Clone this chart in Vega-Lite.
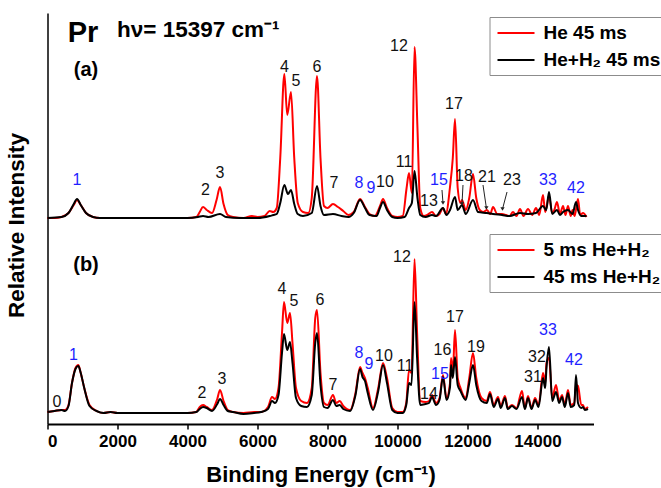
{
"$schema": "https://vega.github.io/schema/vega-lite/v6.json",
"width": 546, "height": 411,
"autosize": {"type": "none"},
"padding": {"left": 47.5, "top": 13, "right": 67.5, "bottom": 64},
"config": {
  "view": {"stroke": null},
  "font": "Liberation Sans",
  "axisX": {"domainColor": "black", "domainWidth": 2, "tickColor": "black", "tickWidth": 1.5, "tickSize": 5, "labelFont": "Liberation Sans", "labelFontSize": 17, "labelFontWeight": "bold", "labelColor": "black", "titleFont": "Liberation Sans", "titleFontSize": 22, "titleFontWeight": "bold", "titleColor": "black", "grid": false, "labelPadding": 4, "titlePadding": 15},
  "axisY": {"domainColor": "black", "domainWidth": 1.5, "ticks": false, "labels": false, "grid": false, "titleFont": "Liberation Sans", "titleFontSize": 22.5, "titleFontWeight": "bold", "titleColor": "black", "titlePadding": 19, "titleY": 212},
  "legend": {"labelFont": "Liberation Sans", "labelFontSize": 19, "labelFontWeight": "bold", "labelColor": "black", "symbolType": "M-0.8,0H2.9", "symbolSize": 400, "symbolStrokeWidth": 2, "strokeColor": "#8c8c8c", "fillColor": "white", "padding": 5, "rowPadding": 6, "labelOffset": 27}
},
"datasets": {
"a": [
{"s":"He 45 ms","e":0,"i":0},{"s":"He 45 ms","e":200,"i":0},{"s":"He 45 ms","e":400,"i":1},{"s":"He 45 ms","e":600,"i":5},{"s":"He 45 ms","e":750,"i":13},{"s":"He 45 ms","e":843,"i":18},{"s":"He 45 ms","e":950,"i":13},{"s":"He 45 ms","e":1100,"i":5},{"s":"He 45 ms","e":1300,"i":1},{"s":"He 45 ms","e":1500,"i":0},{"s":"He 45 ms","e":2000,"i":0},{"s":"He 45 ms","e":3000,"i":0},{"s":"He 45 ms","e":4000,"i":0},{"s":"He 45 ms","e":4250,"i":1},{"s":"He 45 ms","e":4350,"i":6},{"s":"He 45 ms","e":4443,"i":11},{"s":"He 45 ms","e":4550,"i":8},{"s":"He 45 ms","e":4700,"i":5},{"s":"He 45 ms","e":4830,"i":18},{"s":"He 45 ms","e":4929,"i":31},{"s":"He 45 ms","e":5030,"i":14},{"s":"He 45 ms","e":5150,"i":3},{"s":"He 45 ms","e":5300,"i":1},{"s":"He 45 ms","e":5600,"i":0},{"s":"He 45 ms","e":5840,"i":2},{"s":"He 45 ms","e":6000,"i":1},{"s":"He 45 ms","e":6200,"i":2},{"s":"He 45 ms","e":6350,"i":7},{"s":"He 45 ms","e":6450,"i":6},{"s":"He 45 ms","e":6550,"i":10},{"s":"He 45 ms","e":6650,"i":60},{"s":"He 45 ms","e":6767,"i":144},{"s":"He 45 ms","e":6850,"i":103},{"s":"He 45 ms","e":6957,"i":126},{"s":"He 45 ms","e":7050,"i":60},{"s":"He 45 ms","e":7150,"i":15},{"s":"He 45 ms","e":7300,"i":6},{"s":"He 45 ms","e":7450,"i":5},{"s":"He 45 ms","e":7550,"i":20},{"s":"He 45 ms","e":7700,"i":142},{"s":"He 45 ms","e":7800,"i":60},{"s":"He 45 ms","e":7900,"i":12},{"s":"He 45 ms","e":8000,"i":10},{"s":"He 45 ms","e":8157,"i":14},{"s":"He 45 ms","e":8300,"i":11},{"s":"He 45 ms","e":8450,"i":7},{"s":"He 45 ms","e":8600,"i":3},{"s":"He 45 ms","e":8750,"i":6},{"s":"He 45 ms","e":8929,"i":19},{"s":"He 45 ms","e":9071,"i":11},{"s":"He 45 ms","e":9200,"i":4},{"s":"He 45 ms","e":9350,"i":2},{"s":"He 45 ms","e":9500,"i":12},{"s":"He 45 ms","e":9586,"i":19},{"s":"He 45 ms","e":9700,"i":10},{"s":"He 45 ms","e":9850,"i":2},{"s":"He 45 ms","e":10000,"i":1},{"s":"He 45 ms","e":10150,"i":2},{"s":"He 45 ms","e":10260,"i":30},{"s":"He 45 ms","e":10329,"i":45},{"s":"He 45 ms","e":10410,"i":25},{"s":"He 45 ms","e":10486,"i":171},{"s":"He 45 ms","e":10570,"i":90},{"s":"He 45 ms","e":10650,"i":10},{"s":"He 45 ms","e":10750,"i":2},{"s":"He 45 ms","e":10850,"i":3},{"s":"He 45 ms","e":10986,"i":6},{"s":"He 45 ms","e":11100,"i":2},{"s":"He 45 ms","e":11200,"i":4},{"s":"He 45 ms","e":11300,"i":10},{"s":"He 45 ms","e":11380,"i":4},{"s":"He 45 ms","e":11500,"i":31},{"s":"He 45 ms","e":11580,"i":60},{"s":"He 45 ms","e":11643,"i":99},{"s":"He 45 ms","e":11720,"i":30},{"s":"He 45 ms","e":11800,"i":15},{"s":"He 45 ms","e":11843,"i":18},{"s":"He 45 ms","e":11950,"i":8},{"s":"He 45 ms","e":12050,"i":20},{"s":"He 45 ms","e":12157,"i":44},{"s":"He 45 ms","e":12250,"i":20},{"s":"He 45 ms","e":12350,"i":8},{"s":"He 45 ms","e":12450,"i":6},{"s":"He 45 ms","e":12557,"i":8},{"s":"He 45 ms","e":12650,"i":4},{"s":"He 45 ms","e":12729,"i":11},{"s":"He 45 ms","e":12850,"i":4},{"s":"He 45 ms","e":12986,"i":4},{"s":"He 45 ms","e":13100,"i":3},{"s":"He 45 ms","e":13200,"i":2},{"s":"He 45 ms","e":13300,"i":6},{"s":"He 45 ms","e":13400,"i":2},{"s":"He 45 ms","e":13500,"i":9},{"s":"He 45 ms","e":13600,"i":2},{"s":"He 45 ms","e":13729,"i":9},{"s":"He 45 ms","e":13850,"i":3},{"s":"He 45 ms","e":13957,"i":10},{"s":"He 45 ms","e":14050,"i":3},{"s":"He 45 ms","e":14157,"i":23},{"s":"He 45 ms","e":14220,"i":6},{"s":"He 45 ms","e":14329,"i":22},{"s":"He 45 ms","e":14420,"i":5},{"s":"He 45 ms","e":14480,"i":8},{"s":"He 45 ms","e":14557,"i":16},{"s":"He 45 ms","e":14640,"i":4},{"s":"He 45 ms","e":14729,"i":12},{"s":"He 45 ms","e":14800,"i":3},{"s":"He 45 ms","e":14871,"i":12},{"s":"He 45 ms","e":14950,"i":2},{"s":"He 45 ms","e":15000,"i":8},{"s":"He 45 ms","e":15060,"i":2},{"s":"He 45 ms","e":15157,"i":19},{"s":"He 45 ms","e":15220,"i":3},{"s":"He 45 ms","e":15300,"i":5},{"s":"He 45 ms","e":15400,"i":1},
{"s":"He+H₂ 45 ms","e":0,"i":0},{"s":"He+H₂ 45 ms","e":400,"i":1},{"s":"He+H₂ 45 ms","e":600,"i":5},{"s":"He+H₂ 45 ms","e":750,"i":14},{"s":"He+H₂ 45 ms","e":843,"i":19},{"s":"He+H₂ 45 ms","e":950,"i":13},{"s":"He+H₂ 45 ms","e":1100,"i":5},{"s":"He+H₂ 45 ms","e":1300,"i":1},{"s":"He+H₂ 45 ms","e":1500,"i":0},{"s":"He+H₂ 45 ms","e":4000,"i":0},{"s":"He+H₂ 45 ms","e":4300,"i":1},{"s":"He+H₂ 45 ms","e":4443,"i":2},{"s":"He+H₂ 45 ms","e":4600,"i":1},{"s":"He+H₂ 45 ms","e":4929,"i":4},{"s":"He+H₂ 45 ms","e":5100,"i":1},{"s":"He+H₂ 45 ms","e":5500,"i":0},{"s":"He+H₂ 45 ms","e":6000,"i":0},{"s":"He+H₂ 45 ms","e":6350,"i":2},{"s":"He+H₂ 45 ms","e":6450,"i":3},{"s":"He+H₂ 45 ms","e":6550,"i":4},{"s":"He+H₂ 45 ms","e":6650,"i":15},{"s":"He+H₂ 45 ms","e":6767,"i":33},{"s":"He+H₂ 45 ms","e":6870,"i":24},{"s":"He+H₂ 45 ms","e":6957,"i":28},{"s":"He+H₂ 45 ms","e":7050,"i":14},{"s":"He+H₂ 45 ms","e":7150,"i":4},{"s":"He+H₂ 45 ms","e":7300,"i":2},{"s":"He+H₂ 45 ms","e":7550,"i":5},{"s":"He+H₂ 45 ms","e":7700,"i":32},{"s":"He+H₂ 45 ms","e":7800,"i":12},{"s":"He+H₂ 45 ms","e":7900,"i":3},{"s":"He+H₂ 45 ms","e":8157,"i":4},{"s":"He+H₂ 45 ms","e":8400,"i":2},{"s":"He+H₂ 45 ms","e":8600,"i":1},{"s":"He+H₂ 45 ms","e":8750,"i":5},{"s":"He+H₂ 45 ms","e":8929,"i":18},{"s":"He+H₂ 45 ms","e":9071,"i":10},{"s":"He+H₂ 45 ms","e":9200,"i":3},{"s":"He+H₂ 45 ms","e":9400,"i":2},{"s":"He+H₂ 45 ms","e":9500,"i":10},{"s":"He+H₂ 45 ms","e":9586,"i":16},{"s":"He+H₂ 45 ms","e":9700,"i":8},{"s":"He+H₂ 45 ms","e":9850,"i":1},{"s":"He+H₂ 45 ms","e":10000,"i":0},{"s":"He+H₂ 45 ms","e":10200,"i":1},{"s":"He+H₂ 45 ms","e":10329,"i":10},{"s":"He+H₂ 45 ms","e":10410,"i":15},{"s":"He+H₂ 45 ms","e":10486,"i":47},{"s":"He+H₂ 45 ms","e":10570,"i":20},{"s":"He+H₂ 45 ms","e":10650,"i":3},{"s":"He+H₂ 45 ms","e":10800,"i":1},{"s":"He+H₂ 45 ms","e":10986,"i":3},{"s":"He+H₂ 45 ms","e":11100,"i":2},{"s":"He+H₂ 45 ms","e":11300,"i":10},{"s":"He+H₂ 45 ms","e":11400,"i":3},{"s":"He+H₂ 45 ms","e":11500,"i":8},{"s":"He+H₂ 45 ms","e":11643,"i":21},{"s":"He+H₂ 45 ms","e":11720,"i":8},{"s":"He+H₂ 45 ms","e":11843,"i":13},{"s":"He+H₂ 45 ms","e":11950,"i":4},{"s":"He+H₂ 45 ms","e":12157,"i":18},{"s":"He+H₂ 45 ms","e":12300,"i":6},{"s":"He+H₂ 45 ms","e":12557,"i":5},{"s":"He+H₂ 45 ms","e":12729,"i":4},{"s":"He+H₂ 45 ms","e":12986,"i":3},{"s":"He+H₂ 45 ms","e":13200,"i":2},{"s":"He+H₂ 45 ms","e":13500,"i":5},{"s":"He+H₂ 45 ms","e":13729,"i":4},{"s":"He+H₂ 45 ms","e":13957,"i":5},{"s":"He+H₂ 45 ms","e":14157,"i":12},{"s":"He+H₂ 45 ms","e":14250,"i":8},{"s":"He+H₂ 45 ms","e":14329,"i":26},{"s":"He+H₂ 45 ms","e":14420,"i":4},{"s":"He+H₂ 45 ms","e":14557,"i":8},{"s":"He+H₂ 45 ms","e":14640,"i":3},{"s":"He+H₂ 45 ms","e":14729,"i":6},{"s":"He+H₂ 45 ms","e":14871,"i":8},{"s":"He+H₂ 45 ms","e":15000,"i":4},{"s":"He+H₂ 45 ms","e":15100,"i":16},{"s":"He+H₂ 45 ms","e":15157,"i":8},{"s":"He+H₂ 45 ms","e":15250,"i":2},{"s":"He+H₂ 45 ms","e":15400,"i":2}
],
"b": [
{"s":"5 ms He+H₂","e":0,"i":1},{"s":"5 ms He+H₂","e":200,"i":2},{"s":"5 ms He+H₂","e":400,"i":3},{"s":"5 ms He+H₂","e":500,"i":3},{"s":"5 ms He+H₂","e":600,"i":8},{"s":"5 ms He+H₂","e":700,"i":30},{"s":"5 ms He+H₂","e":800,"i":45},{"s":"5 ms He+H₂","e":880,"i":48},{"s":"5 ms He+H₂","e":950,"i":40},{"s":"5 ms He+H₂","e":1050,"i":25},{"s":"5 ms He+H₂","e":1200,"i":8},{"s":"5 ms He+H₂","e":1400,"i":2},{"s":"5 ms He+H₂","e":1600,"i":0},{"s":"5 ms He+H₂","e":1800,"i":1},{"s":"5 ms He+H₂","e":2000,"i":0},{"s":"5 ms He+H₂","e":3000,"i":0},{"s":"5 ms He+H₂","e":4000,"i":0},{"s":"5 ms He+H₂","e":4250,"i":1},{"s":"5 ms He+H₂","e":4350,"i":6},{"s":"5 ms He+H₂","e":4443,"i":8},{"s":"5 ms He+H₂","e":4550,"i":6},{"s":"5 ms He+H₂","e":4700,"i":3},{"s":"5 ms He+H₂","e":4850,"i":14},{"s":"5 ms He+H₂","e":4929,"i":23},{"s":"5 ms He+H₂","e":5030,"i":12},{"s":"5 ms He+H₂","e":5150,"i":3},{"s":"5 ms He+H₂","e":5300,"i":1},{"s":"5 ms He+H₂","e":5600,"i":0},{"s":"5 ms He+H₂","e":5900,"i":1},{"s":"5 ms He+H₂","e":6100,"i":1},{"s":"5 ms He+H₂","e":6300,"i":6},{"s":"5 ms He+H₂","e":6414,"i":16},{"s":"5 ms He+H₂","e":6500,"i":14},{"s":"5 ms He+H₂","e":6600,"i":25},{"s":"5 ms He+H₂","e":6700,"i":80},{"s":"5 ms He+H₂","e":6757,"i":111},{"s":"5 ms He+H₂","e":6850,"i":90},{"s":"5 ms He+H₂","e":6929,"i":100},{"s":"5 ms He+H₂","e":7000,"i":70},{"s":"5 ms He+H₂","e":7100,"i":25},{"s":"5 ms He+H₂","e":7250,"i":12},{"s":"5 ms He+H₂","e":7414,"i":10},{"s":"5 ms He+H₂","e":7550,"i":25},{"s":"5 ms He+H₂","e":7650,"i":95},{"s":"5 ms He+H₂","e":7700,"i":103},{"s":"5 ms He+H₂","e":7800,"i":40},{"s":"5 ms He+H₂","e":7900,"i":10},{"s":"5 ms He+H₂","e":8000,"i":8},{"s":"5 ms He+H₂","e":8157,"i":18},{"s":"5 ms He+H₂","e":8250,"i":10},{"s":"5 ms He+H₂","e":8350,"i":12},{"s":"5 ms He+H₂","e":8450,"i":7},{"s":"5 ms He+H₂","e":8643,"i":3},{"s":"5 ms He+H₂","e":8800,"i":20},{"s":"5 ms He+H₂","e":8929,"i":46},{"s":"5 ms He+H₂","e":9000,"i":40},{"s":"5 ms He+H₂","e":9071,"i":35},{"s":"5 ms He+H₂","e":9150,"i":25},{"s":"5 ms He+H₂","e":9300,"i":5},{"s":"5 ms He+H₂","e":9450,"i":25},{"s":"5 ms He+H₂","e":9586,"i":50},{"s":"5 ms He+H₂","e":9700,"i":35},{"s":"5 ms He+H₂","e":9850,"i":5},{"s":"5 ms He+H₂","e":10000,"i":1},{"s":"5 ms He+H₂","e":10150,"i":1},{"s":"5 ms He+H₂","e":10250,"i":10},{"s":"5 ms He+H₂","e":10329,"i":43},{"s":"5 ms He+H₂","e":10400,"i":40},{"s":"5 ms He+H₂","e":10486,"i":154},{"s":"5 ms He+H₂","e":10560,"i":80},{"s":"5 ms He+H₂","e":10650,"i":12},{"s":"5 ms He+H₂","e":10800,"i":11},{"s":"5 ms He+H₂","e":10900,"i":12},{"s":"5 ms He+H₂","e":10986,"i":18},{"s":"5 ms He+H₂","e":11100,"i":10},{"s":"5 ms He+H₂","e":11200,"i":15},{"s":"5 ms He+H₂","e":11300,"i":38},{"s":"5 ms He+H₂","e":11400,"i":15},{"s":"5 ms He+H₂","e":11500,"i":30},{"s":"5 ms He+H₂","e":11529,"i":55},{"s":"5 ms He+H₂","e":11580,"i":40},{"s":"5 ms He+H₂","e":11643,"i":83},{"s":"5 ms He+H₂","e":11720,"i":35},{"s":"5 ms He+H₂","e":11800,"i":25},{"s":"5 ms He+H₂","e":11950,"i":15},{"s":"5 ms He+H₂","e":12050,"i":35},{"s":"5 ms He+H₂","e":12157,"i":60},{"s":"5 ms He+H₂","e":12250,"i":35},{"s":"5 ms He+H₂","e":12400,"i":15},{"s":"5 ms He+H₂","e":12550,"i":12},{"s":"5 ms He+H₂","e":12643,"i":21},{"s":"5 ms He+H₂","e":12750,"i":8},{"s":"5 ms He+H₂","e":12871,"i":16},{"s":"5 ms He+H₂","e":12950,"i":7},{"s":"5 ms He+H₂","e":13071,"i":17},{"s":"5 ms He+H₂","e":13150,"i":5},{"s":"5 ms He+H₂","e":13271,"i":8},{"s":"5 ms He+H₂","e":13400,"i":5},{"s":"5 ms He+H₂","e":13557,"i":22},{"s":"5 ms He+H₂","e":13640,"i":5},{"s":"5 ms He+H₂","e":13729,"i":17},{"s":"5 ms He+H₂","e":13830,"i":5},{"s":"5 ms He+H₂","e":13929,"i":15},{"s":"5 ms He+H₂","e":14030,"i":8},{"s":"5 ms He+H₂","e":14157,"i":40},{"s":"5 ms He+H₂","e":14220,"i":30},{"s":"5 ms He+H₂","e":14257,"i":50},{"s":"5 ms He+H₂","e":14329,"i":55},{"s":"5 ms He+H₂","e":14420,"i":15},{"s":"5 ms He+H₂","e":14529,"i":28},{"s":"5 ms He+H₂","e":14620,"i":12},{"s":"5 ms He+H₂","e":14700,"i":18},{"s":"5 ms He+H₂","e":14780,"i":8},{"s":"5 ms He+H₂","e":14871,"i":23},{"s":"5 ms He+H₂","e":14950,"i":8},{"s":"5 ms He+H₂","e":15050,"i":10},{"s":"5 ms He+H₂","e":15100,"i":28},{"s":"5 ms He+H₂","e":15157,"i":27},{"s":"5 ms He+H₂","e":15250,"i":8},{"s":"5 ms He+H₂","e":15300,"i":8},{"s":"5 ms He+H₂","e":15350,"i":4},{"s":"5 ms He+H₂","e":15443,"i":6},
{"s":"45 ms He+H₂","e":0,"i":1},{"s":"45 ms He+H₂","e":200,"i":2},{"s":"45 ms He+H₂","e":400,"i":3},{"s":"45 ms He+H₂","e":500,"i":2},{"s":"45 ms He+H₂","e":600,"i":7},{"s":"45 ms He+H₂","e":700,"i":30},{"s":"45 ms He+H₂","e":800,"i":44},{"s":"45 ms He+H₂","e":880,"i":47},{"s":"45 ms He+H₂","e":950,"i":40},{"s":"45 ms He+H₂","e":1050,"i":25},{"s":"45 ms He+H₂","e":1200,"i":7},{"s":"45 ms He+H₂","e":1400,"i":2},{"s":"45 ms He+H₂","e":1600,"i":0},{"s":"45 ms He+H₂","e":1800,"i":1},{"s":"45 ms He+H₂","e":2000,"i":0},{"s":"45 ms He+H₂","e":3000,"i":0},{"s":"45 ms He+H₂","e":4000,"i":0},{"s":"45 ms He+H₂","e":4250,"i":1},{"s":"45 ms He+H₂","e":4350,"i":4},{"s":"45 ms He+H₂","e":4443,"i":6},{"s":"45 ms He+H₂","e":4550,"i":5},{"s":"45 ms He+H₂","e":4700,"i":2},{"s":"45 ms He+H₂","e":4850,"i":9},{"s":"45 ms He+H₂","e":4929,"i":14},{"s":"45 ms He+H₂","e":5030,"i":8},{"s":"45 ms He+H₂","e":5150,"i":2},{"s":"45 ms He+H₂","e":5300,"i":1},{"s":"45 ms He+H₂","e":5600,"i":-1},{"s":"45 ms He+H₂","e":5900,"i":0},{"s":"45 ms He+H₂","e":6100,"i":1},{"s":"45 ms He+H₂","e":6300,"i":4},{"s":"45 ms He+H₂","e":6414,"i":12},{"s":"45 ms He+H₂","e":6500,"i":10},{"s":"45 ms He+H₂","e":6600,"i":18},{"s":"45 ms He+H₂","e":6700,"i":60},{"s":"45 ms He+H₂","e":6757,"i":79},{"s":"45 ms He+H₂","e":6850,"i":63},{"s":"45 ms He+H₂","e":6929,"i":71},{"s":"45 ms He+H₂","e":7000,"i":50},{"s":"45 ms He+H₂","e":7100,"i":15},{"s":"45 ms He+H₂","e":7250,"i":7},{"s":"45 ms He+H₂","e":7414,"i":6},{"s":"45 ms He+H₂","e":7550,"i":18},{"s":"45 ms He+H₂","e":7650,"i":70},{"s":"45 ms He+H₂","e":7700,"i":80},{"s":"45 ms He+H₂","e":7800,"i":28},{"s":"45 ms He+H₂","e":7900,"i":6},{"s":"45 ms He+H₂","e":8000,"i":5},{"s":"45 ms He+H₂","e":8157,"i":13},{"s":"45 ms He+H₂","e":8250,"i":7},{"s":"45 ms He+H₂","e":8350,"i":8},{"s":"45 ms He+H₂","e":8450,"i":4},{"s":"45 ms He+H₂","e":8643,"i":2},{"s":"45 ms He+H₂","e":8800,"i":18},{"s":"45 ms He+H₂","e":8929,"i":44},{"s":"45 ms He+H₂","e":9000,"i":36},{"s":"45 ms He+H₂","e":9071,"i":32},{"s":"45 ms He+H₂","e":9150,"i":20},{"s":"45 ms He+H₂","e":9300,"i":3},{"s":"45 ms He+H₂","e":9450,"i":22},{"s":"45 ms He+H₂","e":9586,"i":48},{"s":"45 ms He+H₂","e":9700,"i":30},{"s":"45 ms He+H₂","e":9850,"i":3},{"s":"45 ms He+H₂","e":10000,"i":0},{"s":"45 ms He+H₂","e":10150,"i":0},{"s":"45 ms He+H₂","e":10250,"i":8},{"s":"45 ms He+H₂","e":10329,"i":30},{"s":"45 ms He+H₂","e":10400,"i":28},{"s":"45 ms He+H₂","e":10486,"i":111},{"s":"45 ms He+H₂","e":10560,"i":55},{"s":"45 ms He+H₂","e":10650,"i":8},{"s":"45 ms He+H₂","e":10800,"i":9},{"s":"45 ms He+H₂","e":10900,"i":10},{"s":"45 ms He+H₂","e":10986,"i":16},{"s":"45 ms He+H₂","e":11100,"i":8},{"s":"45 ms He+H₂","e":11200,"i":13},{"s":"45 ms He+H₂","e":11300,"i":36},{"s":"45 ms He+H₂","e":11400,"i":13},{"s":"45 ms He+H₂","e":11500,"i":26},{"s":"45 ms He+H₂","e":11529,"i":48},{"s":"45 ms He+H₂","e":11580,"i":35},{"s":"45 ms He+H₂","e":11643,"i":56},{"s":"45 ms He+H₂","e":11720,"i":28},{"s":"45 ms He+H₂","e":11800,"i":22},{"s":"45 ms He+H₂","e":11950,"i":13},{"s":"45 ms He+H₂","e":12050,"i":30},{"s":"45 ms He+H₂","e":12157,"i":48},{"s":"45 ms He+H₂","e":12250,"i":28},{"s":"45 ms He+H₂","e":12400,"i":12},{"s":"45 ms He+H₂","e":12550,"i":10},{"s":"45 ms He+H₂","e":12643,"i":19},{"s":"45 ms He+H₂","e":12750,"i":6},{"s":"45 ms He+H₂","e":12871,"i":14},{"s":"45 ms He+H₂","e":12950,"i":5},{"s":"45 ms He+H₂","e":13071,"i":15},{"s":"45 ms He+H₂","e":13150,"i":4},{"s":"45 ms He+H₂","e":13271,"i":7},{"s":"45 ms He+H₂","e":13400,"i":4},{"s":"45 ms He+H₂","e":13557,"i":16},{"s":"45 ms He+H₂","e":13640,"i":4},{"s":"45 ms He+H₂","e":13729,"i":15},{"s":"45 ms He+H₂","e":13830,"i":4},{"s":"45 ms He+H₂","e":13929,"i":13},{"s":"45 ms He+H₂","e":14030,"i":6},{"s":"45 ms He+H₂","e":14157,"i":35},{"s":"45 ms He+H₂","e":14220,"i":25},{"s":"45 ms He+H₂","e":14257,"i":45},{"s":"45 ms He+H₂","e":14329,"i":66},{"s":"45 ms He+H₂","e":14420,"i":12},{"s":"45 ms He+H₂","e":14529,"i":21},{"s":"45 ms He+H₂","e":14620,"i":10},{"s":"45 ms He+H₂","e":14700,"i":16},{"s":"45 ms He+H₂","e":14780,"i":6},{"s":"45 ms He+H₂","e":14871,"i":20},{"s":"45 ms He+H₂","e":14950,"i":6},{"s":"45 ms He+H₂","e":15050,"i":8},{"s":"45 ms He+H₂","e":15100,"i":38},{"s":"45 ms He+H₂","e":15157,"i":10},{"s":"45 ms He+H₂","e":15250,"i":5},{"s":"45 ms He+H₂","e":15300,"i":6},{"s":"45 ms He+H₂","e":15350,"i":3},{"s":"45 ms He+H₂","e":15443,"i":4}
],
"la": [
{"t":"1","e":843,"i":38,"hl":true},{"t":"2","e":4514,"i":28,"hl":false},{"t":"3","e":4929,"i":45,"hl":false},{"t":"4","e":6771,"i":151,"hl":false},{"t":"5","e":7100,"i":137,"hl":false},{"t":"6","e":7700,"i":151,"hl":false},{"t":"7","e":8186,"i":35,"hl":false},{"t":"8","e":8900,"i":35,"hl":true},{"t":"9","e":9243,"i":30,"hl":true},{"t":"10","e":9643,"i":36,"hl":false},{"t":"11","e":10186,"i":56,"hl":false},{"t":"12","e":10043,"i":172,"hl":false},{"t":"13","e":10900,"i":17,"hl":false},{"t":"15","e":11186,"i":38,"hl":true},{"t":"17","e":11614,"i":114,"hl":false},{"t":"18","e":11900,"i":42,"hl":false},{"t":"21","e":12557,"i":41,"hl":false},{"t":"23","e":13271,"i":38,"hl":false},{"t":"33","e":14300,"i":38,"hl":true},{"t":"42","e":15100,"i":30,"hl":true}
],
"lb": [
{"t":"0","e":271,"i":11,"hl":false},{"t":"1","e":743,"i":58,"hl":true},{"t":"2","e":4414,"i":20,"hl":false},{"t":"3","e":4986,"i":34,"hl":false},{"t":"4","e":6700,"i":124,"hl":false},{"t":"5","e":7043,"i":112,"hl":false},{"t":"6","e":7786,"i":113,"hl":false},{"t":"7","e":8157,"i":28,"hl":false},{"t":"8","e":8900,"i":60,"hl":true},{"t":"9","e":9186,"i":49,"hl":true},{"t":"10","e":9614,"i":57,"hl":false},{"t":"11","e":10214,"i":47,"hl":false},{"t":"12","e":10129,"i":156,"hl":false},{"t":"14","e":10900,"i":19,"hl":false},{"t":"15","e":11214,"i":39,"hl":true},{"t":"16","e":11286,"i":63,"hl":false},{"t":"17","e":11643,"i":96,"hl":false},{"t":"19","e":12243,"i":66,"hl":false},{"t":"31","e":13871,"i":36,"hl":false},{"t":"32","e":13986,"i":56,"hl":false},{"t":"33","e":14300,"i":83,"hl":true},{"t":"42","e":15043,"i":53,"hl":true}
],
"arr": [
{"e1":11271,"i1":28,"e2":11300,"i2":15},{"e1":11871,"i1":33,"e2":11843,"i2":14},{"e1":12443,"i1":33,"e2":12540,"i2":10},{"e1":13129,"i1":26,"e2":13000,"i2":9}
]
},
"layer": [
{
 "layer": [
  {"data": {"name": "a"},
   "mark": {"type": "line", "strokeWidth": 2, "interpolate": "monotone"},
   "encoding": {
    "x": {"field": "e", "type": "quantitative", "scale": {"domain": [0, 15600], "nice": false, "zero": false}, "title": "Binding Energy (cm⁻¹)", "axis": {"values": [0,1000,2000,3000,4000,5000,6000,7000,8000,9000,10000,11000,12000,13000,14000,15000], "format": "d", "labelExpr": "datum.value % 2000 === 0 ? datum.label : ''"}},
    "y": {"field": "i", "type": "quantitative", "scale": {"domain": [-206, 205], "nice": false, "zero": false}, "title": "Relative Intensity"},
    "color": {"field": "s", "type": "nominal", "scale": {"domain": ["He 45 ms", "He+H₂ 45 ms"], "range": ["#ff0000", "#000000"]}, "sort": null, "legend": {"title": null, "orient": "none", "legendX": 442, "legendY": 4}}
   }},
  {"data": {"name": "la"},
   "mark": {"type": "text", "font": "Liberation Sans", "fontSize": 16, "baseline": "middle", "align": "center"},
   "encoding": {
    "x": {"field": "e", "type": "quantitative"},
    "y": {"field": "i", "type": "quantitative"},
    "text": {"field": "t"},
    "color": {"condition": {"test": "datum.hl", "value": "#1f1fff"}, "value": "#111111"}
   }},
  {"data": {"name": "arr"},
   "mark": {"type": "rule", "color": "#222222", "strokeWidth": 1},
   "encoding": {
    "x": {"field": "e1", "type": "quantitative"}, "y": {"field": "i1", "type": "quantitative"},
    "x2": {"field": "e2"}, "y2": {"field": "i2"}
   }},
  {"data": {"name": "arr"},
   "mark": {"type": "point", "shape": "triangle-down", "filled": true, "size": 18, "color": "#222222", "opacity": 1},
   "encoding": {
    "x": {"field": "e2", "type": "quantitative"}, "y": {"field": "i2", "type": "quantitative"}
   }},
  {"data": {"values": [{"t": "Pr", "e": 1014, "i": 176}]},
   "mark": {"type": "text", "font": "Liberation Sans", "fontSize": 29, "fontWeight": "bold", "align": "center", "baseline": "alphabetic", "color": "black"},
   "encoding": {"x": {"field": "e", "type": "quantitative"}, "y": {"field": "i", "type": "quantitative"}, "text": {"field": "t"}}},
  {"data": {"values": [{"t": "hν= 15397 cm⁻¹", "e": 1986, "i": 181}]},
   "mark": {"type": "text", "font": "Liberation Sans", "fontSize": 22.5, "fontWeight": "bold", "align": "left", "baseline": "alphabetic", "color": "black"},
   "encoding": {"x": {"field": "e", "type": "quantitative"}, "y": {"field": "i", "type": "quantitative"}, "text": {"field": "t"}}},
  {"data": {"values": [{"t": "(a)", "e": 1100, "i": 142}]},
   "mark": {"type": "text", "font": "Liberation Sans", "fontSize": 20, "fontWeight": "bold", "align": "center", "baseline": "alphabetic", "color": "black"},
   "encoding": {"x": {"field": "e", "type": "quantitative"}, "y": {"field": "i", "type": "quantitative"}, "text": {"field": "t"}}}
 ]
},
{
 "layer": [
  {"data": {"name": "b"},
   "mark": {"type": "line", "strokeWidth": 2, "interpolate": "monotone"},
   "encoding": {
    "x": {"field": "e", "type": "quantitative", "scale": {"domain": [0, 15600], "nice": false, "zero": false}},
    "y": {"field": "i", "type": "quantitative", "scale": {"domain": [-11, 400], "nice": false, "zero": false}, "axis": null},
    "color": {"field": "s", "type": "nominal", "scale": {"domain": ["5 ms He+H₂", "45 ms He+H₂"], "range": ["#ff0000", "#000000"]}, "sort": null, "legend": {"title": null, "orient": "none", "legendX": 442, "legendY": 221}}
   }},
  {"data": {"name": "lb"},
   "mark": {"type": "text", "font": "Liberation Sans", "fontSize": 16, "baseline": "middle", "align": "center"},
   "encoding": {
    "x": {"field": "e", "type": "quantitative"},
    "y": {"field": "i", "type": "quantitative", "axis": null},
    "text": {"field": "t"},
    "color": {"condition": {"test": "datum.hl", "value": "#1f1fff"}, "value": "#111111"}
   }},
  {"data": {"values": [{"t": "(b)", "e": 1100, "i": 142}]},
   "mark": {"type": "text", "font": "Liberation Sans", "fontSize": 20, "fontWeight": "bold", "align": "center", "baseline": "alphabetic", "color": "black"},
   "encoding": {"x": {"field": "e", "type": "quantitative"}, "y": {"field": "i", "type": "quantitative", "axis": null}, "text": {"field": "t"}}}
 ]
}
],
"resolve": {"scale": {"y": "independent", "color": "independent"}, "legend": {"color": "independent"}}
}
